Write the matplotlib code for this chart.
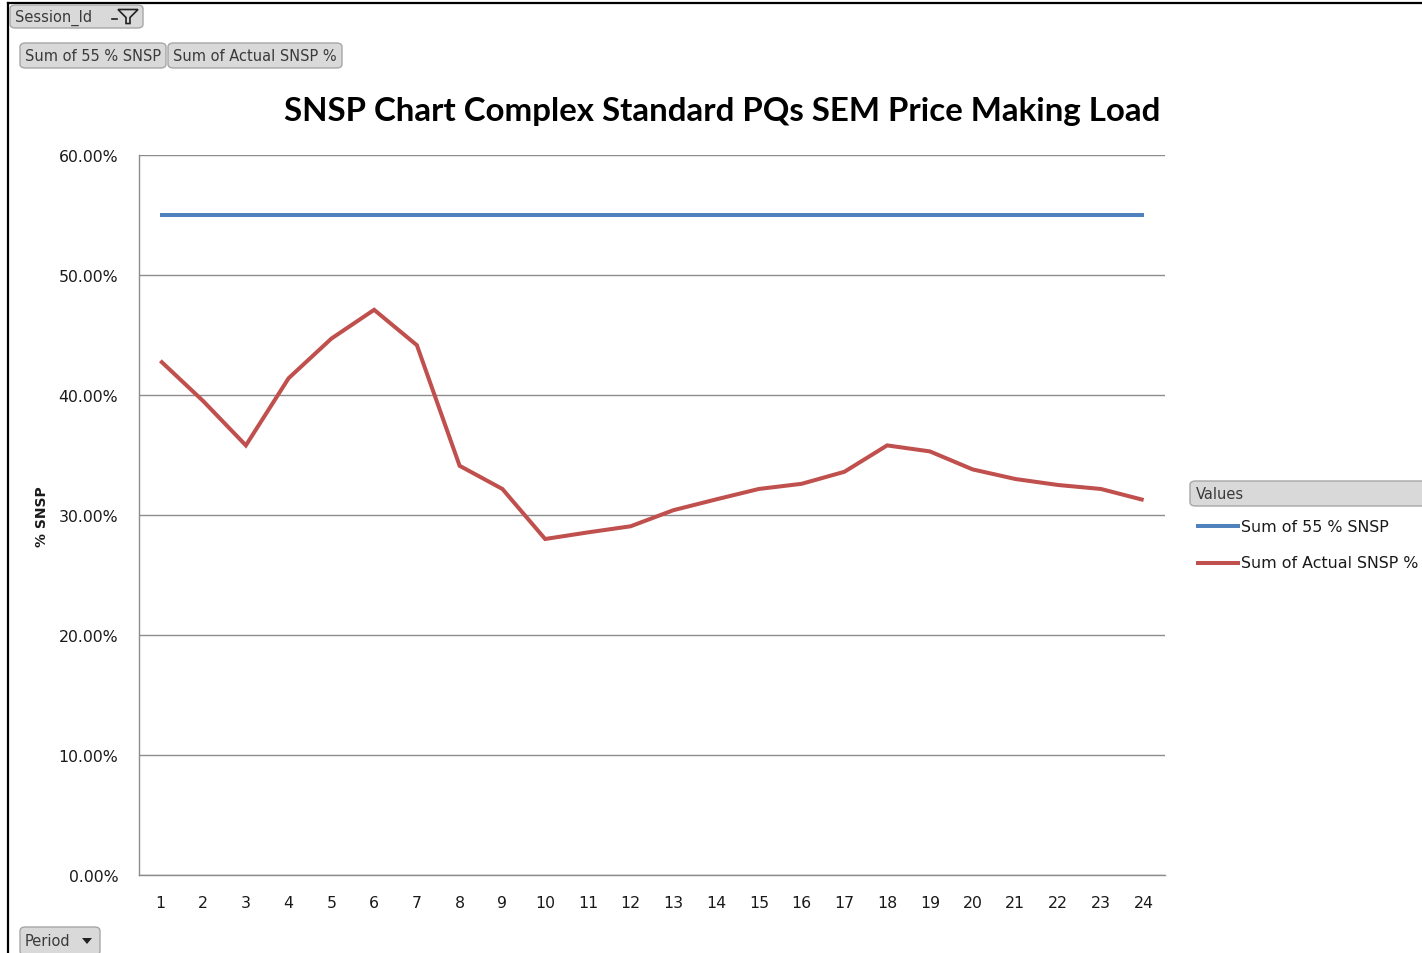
import matplotlib
matplotlib.use("Agg")
import matplotlib.pyplot as plt
from matplotlib.patches import FancyBboxPatch, Polygon
from matplotlib.lines import Line2D

periods = list(range(1, 25))
target_snsp = [55.0] * 24
actual_snsp = [42.85, 39.5, 35.8, 41.4, 44.7, 47.1, 44.15, 34.1, 32.17, 28.0,
               28.55, 29.06, 30.4, 31.3, 32.17, 32.6, 33.6, 35.8, 35.3, 33.8,
               33.0, 32.5, 32.17, 31.25]
yticks = [0, 10, 20, 30, 40, 50, 60]
series_names = ["Sum of 55 % SNSP", "Sum of Actual SNSP %"]
title = "SNSP Chart Complex Standard PQs SEM Price Making Load"

W, H = 1422, 954
fig = plt.figure(figsize=(W / 100, H / 100), dpi=100)
fig.patch.set_facecolor("white")

def fx(x):
    return x / W

def fy(y):
    return 1 - y / H

ax = fig.add_axes([fx(139), fy(876), fx(1165) - fx(139), fy(156) - fy(876)])
blue = "#4F81BD"
red = "#C0504D"
ax.plot(periods, target_snsp, color=blue, lw=2.9, solid_capstyle="butt", zorder=3)
ax.plot(periods, actual_snsp, color=red, lw=2.9, solid_capstyle="butt",
        solid_joinstyle="miter", zorder=3)
ax.set_xlim(0.5, 24.5)
ax.set_ylim(0, 60)
ax.set_yticks(yticks)
ax.set_yticklabels([f"{v:.2f}%" for v in yticks])
ax.set_xticks(periods)
ax.set_xticklabels([str(p) for p in periods])
ax.tick_params(axis="both", length=0, labelsize=11.3, labelcolor="#1a1a1a")
ax.tick_params(axis="y", pad=15)
ax.tick_params(axis="x", pad=14.5)
ax.grid(axis="y", color="#8c8c8c", lw=1.0)
ax.set_axisbelow(True)
for s in ["top", "right"]:
    ax.spines[s].set_visible(False)
for s in ["left", "bottom"]:
    ax.spines[s].set_color("#8c8c8c")
    ax.spines[s].set_linewidth(1.0)

fig.text(fx(42), fy(517), "% SNSP", rotation=90, ha="center", va="center",
         fontsize=10, fontweight="bold", color="#1a1a1a")

fig.text(fx(722), fy(112), title, ha="center", va="center", fontsize=23.8,
         fontweight="bold", family="Lato", color="black")

# outer frame lines
fig.add_artist(Line2D([fx(8), fx(8)], [fy(4), 0], color="black", lw=1.6))
fig.add_artist(Line2D([fx(8), 1], [fy(4), fy(4)], color="black", lw=1.6))

def button(x0, y0, x1, y1, text, fs=10.5, arrow=False, funnel=False):
    p = FancyBboxPatch((fx(x0), fy(y1)), fx(x1) - fx(x0), fy(y0) - fy(y1),
                       boxstyle="round,pad=0,rounding_size=0.004",
                       transform=fig.transFigure, facecolor="#d9d9d9",
                       edgecolor="#a6a6a6", lw=1.0, zorder=5)
    fig.add_artist(p)
    fig.text(fx(x0 + 5), fy((y0 + y1) / 2), text, ha="left", va="center",
             fontsize=fs, color="#3a3a3a", zorder=6)
    if arrow:
        tri = Polygon([[fx(x1 - 18), fy((y0 + y1) / 2 - 3)],
                       [fx(x1 - 8), fy((y0 + y1) / 2 - 3)],
                       [fx(x1 - 13), fy((y0 + y1) / 2 + 3)]],
                      closed=True, transform=fig.transFigure,
                      facecolor="#222222", edgecolor="none", zorder=7)
        fig.add_artist(tri)
    if funnel:
        cy = (y0 + y1) / 2
        fig.add_artist(Line2D([fx(x1 - 31), fx(x1 - 26)], [fy(cy + 2), fy(cy + 2)],
                              transform=fig.transFigure, color="#222222", lw=1.2, zorder=7))
        fun = Polygon([[fx(x1 - 25), fy(cy - 7)], [fx(x1 - 5), fy(cy - 7)],
                       [fx(x1 - 13), fy(cy + 1)], [fx(x1 - 13), fy(cy + 7)],
                       [fx(x1 - 17), fy(cy + 7)], [fx(x1 - 17), fy(cy + 1)]],
                      closed=True, transform=fig.transFigure,
                      facecolor="none", edgecolor="#222222", lw=1.2, zorder=7)
        fig.add_artist(fun)

button(10, 6, 143, 29, "Session_Id", funnel=True)
button(20, 44, 166, 69, series_names[0])
button(168, 44, 342, 69, series_names[1])
button(20, 928, 100, 956, "Period", arrow=True)

# legend panel
hdr = FancyBboxPatch((fx(1190), fy(507)), fx(1430) - fx(1190), fy(482) - fy(507),
                     boxstyle="round,pad=0,rounding_size=0.004",
                     transform=fig.transFigure, facecolor="#d9d9d9",
                     edgecolor="#a6a6a6", lw=1.0, zorder=5)
fig.add_artist(hdr)
fig.text(fx(1196), fy(494.5), "Values", ha="left", va="center", fontsize=10.5,
         color="#3a3a3a", zorder=6)
for i, (name, col) in enumerate(zip(series_names, [blue, red])):
    yy = 527 + i * 37
    fig.add_artist(Line2D([fx(1196), fx(1240)], [fy(yy), fy(yy)], color=col,
                          lw=2.9, solid_capstyle="butt"))
    fig.text(fx(1241), fy(yy), name, ha="left", va="center", fontsize=11.4,
             color="#1a1a1a")

fig.savefig("out.png", dpi=100, facecolor="white")
